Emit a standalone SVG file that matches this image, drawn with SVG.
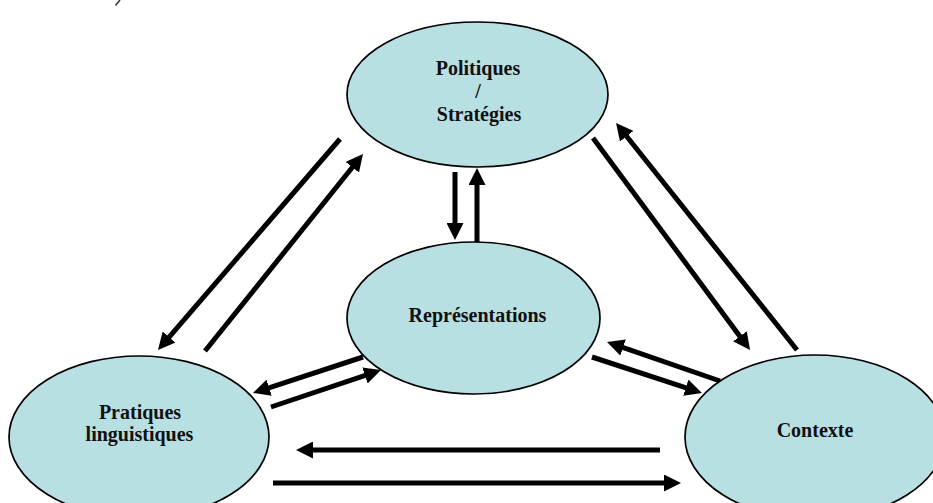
<svg xmlns="http://www.w3.org/2000/svg" width="933" height="503" viewBox="0 0 933 503">
<style>
.node{fill:#B8DFE2;stroke:#000;stroke-width:1.7}
.lbl{font-family:"Liberation Serif","Times New Roman",serif;font-weight:bold;font-size:20px;fill:#111;text-anchor:middle}
.arr{stroke:#000;stroke-width:5;fill:none;marker-end:url(#head)}
</style>
<defs>
<marker id="head" viewBox="0 0 17 17" markerWidth="17" markerHeight="17" refX="2" refY="8.5" orient="auto" markerUnits="userSpaceOnUse">
<path d="M0,0 L17,8.5 L0,17 z" fill="#000"/>
</marker>
</defs>
<rect width="933" height="503" fill="#fff"/>
<line x1="120" y1="0" x2="115.5" y2="5.5" stroke="#333" stroke-width="1.5"/>
<g id="connectors">
<line class="arr" x1="660" y1="450" x2="311" y2="450"/>
<line class="arr" x1="273" y1="483" x2="666" y2="483"/>
<line class="arr" x1="340" y1="139" x2="167.8" y2="338.6"/>
<line class="arr" x1="205" y1="351" x2="353.6" y2="165.7"/>
<line class="arr" x1="593" y1="138" x2="741.1" y2="337.9"/>
<line class="arr" x1="797" y1="350" x2="625.4" y2="134.7"/>
<line class="arr" x1="455" y1="172" x2="455" y2="225"/>
<line class="arr" x1="477" y1="242" x2="477" y2="183"/>
<line class="arr" x1="363" y1="357" x2="267.3" y2="388.3"/>
<line class="arr" x1="271" y1="407" x2="366.8" y2="374.8"/>
<line class="arr" x1="720" y1="381" x2="621.2" y2="346.9"/>
<line class="arr" x1="592" y1="357" x2="687.7" y2="388.3"/>
</g>
<g id="politiques">
<ellipse class="node" cx="477.5" cy="94.5" rx="130.5" ry="72.5"/>
<text class="lbl" x="478" y="75">Politiques</text>
<text class="lbl" x="478" y="98">/</text>
<text class="lbl" x="479" y="121">Stratégies</text>
</g>
<g id="representations">
<ellipse class="node" cx="473.5" cy="318" rx="126.5" ry="76"/>
<text class="lbl" x="477.5" y="322">Représentations</text>
</g>
<g id="pratiques">
<ellipse class="node" cx="139" cy="437" rx="130" ry="81"/>
<text class="lbl" x="140" y="419">Pratiques</text>
<text class="lbl" x="139.5" y="441">linguistiques</text>
</g>
<g id="contexte">
<ellipse class="node" cx="815" cy="437" rx="130" ry="82"/>
<text class="lbl" x="815" y="437">Contexte</text>
</g>
</svg>
